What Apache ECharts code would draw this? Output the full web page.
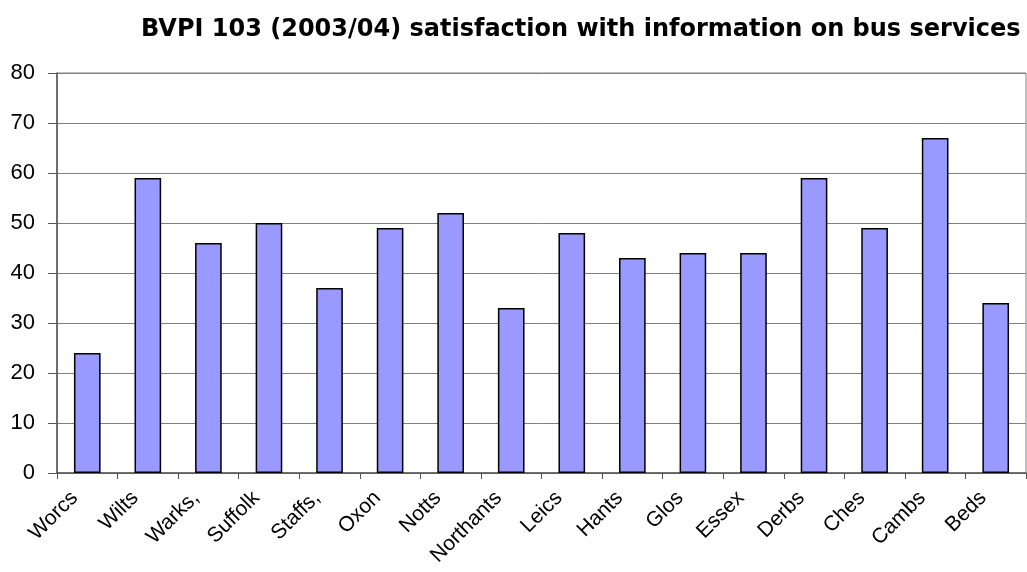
<!DOCTYPE html>
<html>
<head>
<meta charset="utf-8">
<script src="https://cdn.jsdelivr.net/npm/echarts@6/dist/echarts.min.js"></script>
<style>
  html, body { margin: 0; padding: 0; background: #fff; }
  #chart { width: 1027px; height: 572px; }
</style>
</head>
<body>
<div id="chart"></div>
<script>
// chart data
const titleText = 'BVPI 103 (2003/04) satisfaction with information on bus services'
const categories = ['Worcs', 'Wilts', 'Warks,', 'Suffolk', 'Staffs,', 'Oxon', 'Notts', 'Northants',
  'Leics', 'Hants', 'Glos', 'Essex', 'Derbs', 'Ches', 'Cambs', 'Beds']
const satisfaction = [24, 59, 46, 50, 37, 49, 52, 33, 48, 43, 44, 44, 59, 49, 67, 34]
const yMin = 0
const yMax = 80
const yStep = 10

const font = '"Liberation Sans", Arial, sans-serif'

let chart = echarts.init(document.getElementById('chart'))

let option = {
  animation: false,
  title: {
    text: titleText,
    left: 136,
    top: 13,
    textStyle: { fontFamily: '"DejaVu Sans", sans-serif', fontSize: 24, fontWeight: 'bold', color: '#000' }
  },
  grid: {
    left: 57, right: 1, top: 73, bottom: 99,
    show: true, borderColor: '#808080', borderWidth: 1
  },
  xAxis: {
    type: 'category',
    data: categories,
    axisLine: { lineStyle: { color: '#555', width: 1.5 } },
    axisTick: { show: true, length: 6, lineStyle: { color: '#555' } },
    axisLabel: {
      rotate: 45, fontFamily: font, fontSize: 21, color: '#000', margin: 9, interval: 0,
      padding: [0, 18, 0, 0]
    },
    splitLine: { show: false }
  },
  yAxis: {
    type: 'value',
    min: yMin, max: yMax, interval: yStep,
    axisLine: { show: true, lineStyle: { color: '#555', width: 1.5 } },
    axisTick: { show: true, length: 9, lineStyle: { color: '#555' } },
    axisLabel: { fontFamily: font, fontSize: 22, color: '#000', margin: 22 },
    splitLine: { lineStyle: { color: '#808080', width: 1 } }
  },
  series: [{
    type: 'bar',
    data: satisfaction,
    barWidth: '44%',
    itemStyle: { color: '#9999ff', borderColor: '#000', borderWidth: 1.5 }
  }]
}

chart.setOption(option)
</script>
</body>
</html>
